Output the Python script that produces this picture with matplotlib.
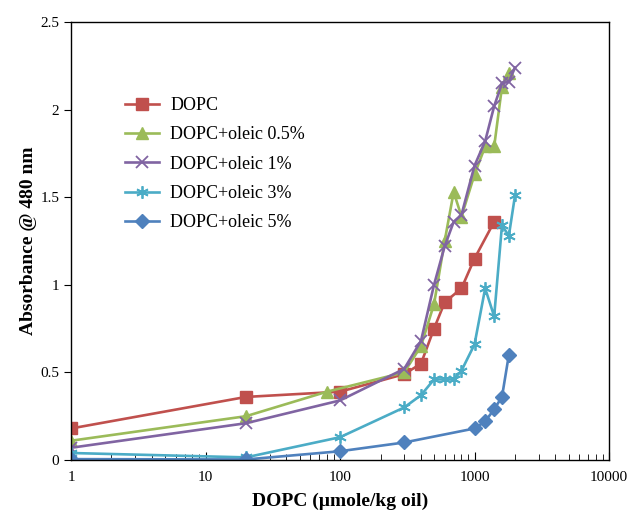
import matplotlib.pyplot as plt
from matplotlib.ticker import FixedLocator, LogLocator, NullFormatter

plt.rcParams['font.family'] = ['Liberation Serif', 'DejaVu Serif']

# data
x_dopc = [1, 20, 100, 300, 400, 500, 600, 800, 1000, 1400]
y_dopc = [0.18, 0.36, 0.39, 0.49, 0.55, 0.75, 0.90, 0.98, 1.15, 1.36]

x_o05 = [1, 20, 80, 300, 400, 500, 600, 700, 800, 1000, 1200, 1400, 1600, 1800]
y_o05 = [0.11, 0.25, 0.39, 0.50, 0.65, 0.89, 1.25, 1.53, 1.39, 1.63, 1.79, 1.79, 2.13, 2.21]

x_o1 = [1, 20, 100, 300, 400, 500, 600, 700, 800, 1000, 1200, 1400, 1600, 1800, 2000]
y_o1 = [0.07, 0.21, 0.34, 0.52, 0.68, 1.00, 1.22, 1.36, 1.40, 1.68, 1.82, 2.02, 2.15, 2.16, 2.24]

x_o3 = [1, 20, 100, 300, 400, 500, 600, 700, 800, 1000, 1200, 1400, 1600, 1800, 2000]
y_o3 = [0.04, 0.015, 0.13, 0.30, 0.37, 0.46, 0.46, 0.46, 0.51, 0.66, 0.98, 0.82, 1.34, 1.28, 1.51]

x_o5 = [1, 20, 100, 300, 1000, 1200, 1400, 1600, 1800]
y_o5 = [0.005, 0.003, 0.05, 0.10, 0.18, 0.22, 0.29, 0.36, 0.60]

labels = ['DOPC', 'DOPC+oleic 0.5%', 'DOPC+oleic 1%', 'DOPC+oleic 3%', 'DOPC+oleic 5%']

fig = plt.figure(figsize=(6.3, 5.13), dpi=100)
ax = fig.add_axes([0.1127, 0.1033, 0.854, 0.8537])

lw = 1.9
ax.plot(x_dopc, y_dopc, color='#C0504D', lw=lw, marker='s', ms=8, label=labels[0])
ax.plot(x_o05, y_o05, color='#9BBB59', lw=lw, marker='^', ms=9, label=labels[1])
ax.plot(x_o1, y_o1, color='#8064A2', lw=lw, marker='x', ms=8, mew=1.3, label=labels[2])
ax.plot(x_o3, y_o3, color='#4BACC6', lw=lw, marker=(6, 2, 0), ms=9, mew=1.3, label=labels[3])
ax.plot(x_o5, y_o5, color='#4F81BD', lw=lw, marker='D', ms=7, label=labels[4])

ax.set_xscale('log')
ax.set_xlim(1, 10000)
ax.set_ylim(0, 2.5)
ax.set_xticks([1, 10, 100, 1000, 10000])
ax.set_xticklabels(['1', '10', '100', '1000', '10000'])
ax.xaxis.set_minor_locator(LogLocator(base=10, subs=range(2, 10)))
ax.xaxis.set_minor_formatter(NullFormatter())
ax.yaxis.set_major_locator(FixedLocator([0, 0.5, 1, 1.5, 2, 2.5]))
ax.set_yticklabels(['0', '0.5', '1', '1.5', '2', '2.5'])

ax.tick_params(axis='x', which='major', direction='in', length=6, labelsize=11, pad=8)
ax.tick_params(axis='x', which='minor', direction='in', length=4)
ax.tick_params(axis='y', direction='out', length=5, labelsize=11)
ax.tick_params(top=False, right=False)
for s in ax.spines.values():
    s.set_linewidth(1.0)

ax.set_xlabel('DOPC (µmole/kg oil)', fontsize=14, fontweight='bold', labelpad=6)
ax.set_ylabel('Absorbance @ 480 nm', fontsize=14, fontweight='bold', labelpad=2)

ax.legend(loc='upper left', bbox_to_anchor=(0.087, 0.845), borderaxespad=0, frameon=False,
          fontsize=13, handlelength=1.9, handletextpad=0.6, labelspacing=0.68)

fig.savefig('out.png', dpi=100)
